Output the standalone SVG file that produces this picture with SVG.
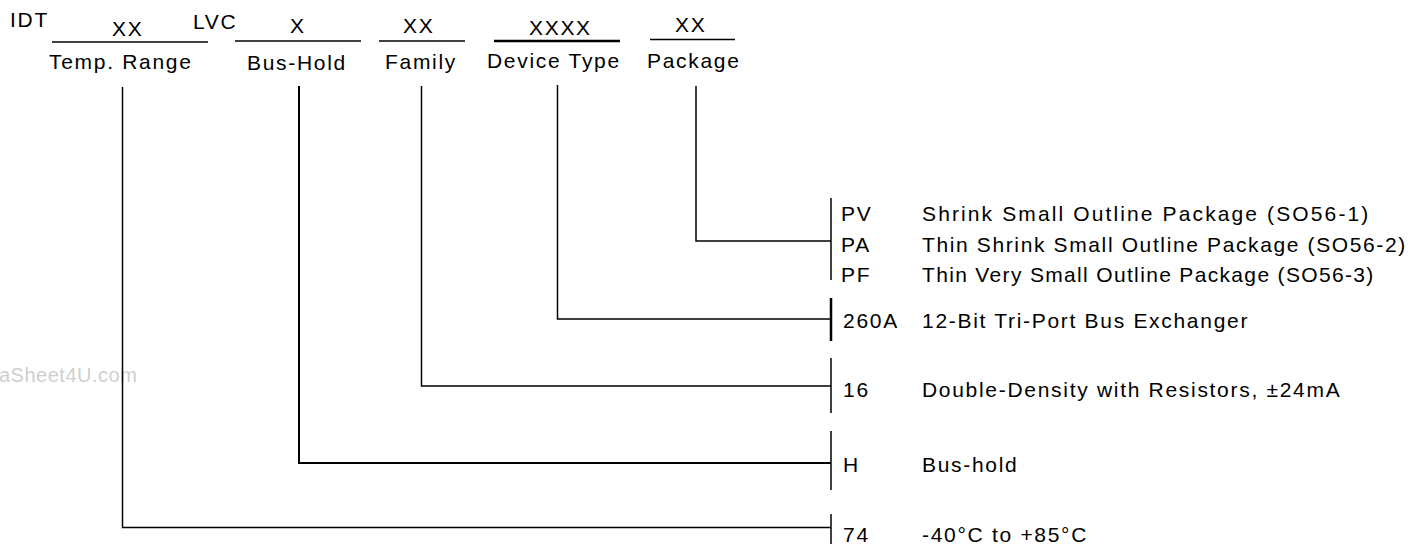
<svg xmlns="http://www.w3.org/2000/svg" width="1413" height="544" viewBox="0 0 1413 544">
<style>
text{font-family:"Liberation Sans",Arial,sans-serif;font-size:21px;fill:#000;letter-spacing:1.7px}
.ln{stroke:#000;stroke-width:1.5;fill:none}
.md{stroke:#000;stroke-width:2;fill:none}
.th{stroke:#000;stroke-width:2.5;fill:none}
.wm{fill:#cfcfcf;font-size:20px;letter-spacing:0.5px}
</style>
<rect width="1413" height="544" fill="#fff"/>
<text class="wm" x="-1" y="382">aSheet4U.com</text>
<g id="header">
<text x="10" y="27">IDT</text>
<text x="193" y="29">LVC</text>
</g>
<g id="temp-range">
<text x="112" y="36">XX</text>
<line class="ln" x1="52" y1="42" x2="208" y2="42"/>
<text x="49" y="69">Temp. Range</text>
</g>
<g id="bus-hold">
<text x="290" y="33">X</text>
<line class="ln" x1="235" y1="41" x2="361" y2="41"/>
<text x="247" y="70">Bus-Hold</text>
</g>
<g id="family">
<text x="403" y="33">XX</text>
<line class="ln" x1="379" y1="41" x2="465" y2="41"/>
<text x="385" y="69">Family</text>
</g>
<g id="device-type">
<text x="529" y="35">XXXX</text>
<line class="th" x1="494" y1="41" x2="620" y2="41"/>
<text x="487" y="68">Device Type</text>
</g>
<g id="package">
<text x="675" y="32">XX</text>
<line class="ln" x1="650" y1="39.5" x2="735" y2="39.5"/>
<text x="647" y="68">Package</text>
</g>
<g id="connectors">
<path class="ln" d="M122.5 87 V527.5 H831"/>
<path class="md" d="M299 86 V463 H831"/>
<path class="ln" d="M421.5 86 V386 H831"/>
<path class="ln" d="M557.5 85 V319 H831"/>
<path class="ln" d="M696 86 V241 H831"/>
</g>
<g id="package-options">
<line class="ln" x1="831" y1="198" x2="831" y2="280"/>
<text x="841" y="221">PV</text>
<text x="922" y="221" textLength="448" lengthAdjust="spacing">Shrink Small Outline Package (SO56-1)</text>
<text x="841" y="252">PA</text>
<text x="922" y="252" textLength="485" lengthAdjust="spacing">Thin Shrink Small Outline Package (SO56-2)</text>
<text x="841" y="282">PF</text>
<text x="922" y="282" textLength="453" lengthAdjust="spacing">Thin Very Small Outline Package (SO56-3)</text>
</g>
<g id="device-options">
<line class="th" x1="831" y1="298" x2="831" y2="341"/>
<text x="843" y="328">260A</text>
<text x="922" y="328">12-Bit Tri-Port Bus Exchanger</text>
</g>
<g id="family-options">
<line class="ln" x1="831" y1="358" x2="831" y2="413"/>
<text x="843" y="397">16</text>
<text x="922" y="397">Double-Density with Resistors, ±24mA</text>
</g>
<g id="bushold-options">
<line class="ln" x1="831" y1="431" x2="831" y2="490"/>
<text x="843" y="472">H</text>
<text x="922" y="472">Bus-hold</text>
</g>
<g id="temp-options">
<line class="ln" x1="831" y1="514" x2="831" y2="544"/>
<text x="843" y="542">74</text>
<text x="922" y="542">-40°C to +85°C</text>
</g>
</svg>
